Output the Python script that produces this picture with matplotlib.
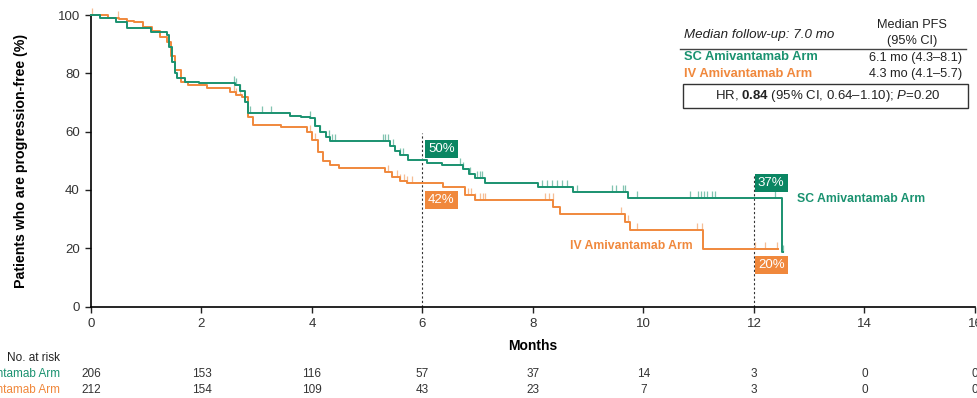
import numpy as np
import matplotlib.pyplot as plt
from matplotlib.patches import Rectangle

plt.rcParams['font.family'] = ['Liberation Sans', 'DejaVu Sans']
plt.rcParams['mathtext.fontset'] = 'custom'
plt.rcParams['mathtext.rm'] = 'Liberation Sans'
plt.rcParams['mathtext.bf'] = 'Liberation Sans:bold'
plt.rcParams['mathtext.it'] = 'Liberation Sans:italic'

GREEN = '#1a9270'
GREEN_BOX = '#0b8663'
ORANGE = '#f0883c'

# SC arm (step function: value s from time t onward)
sc_t = [0, 0.17, 0.45, 0.66, 1.08, 1.38, 1.42, 1.47, 1.52, 1.56, 1.70, 1.95, 2.60, 2.70,
        2.78, 2.85, 3.60, 3.80, 3.97, 4.05, 4.15, 4.25, 4.33, 5.42, 5.50, 5.60, 5.74, 6.08,
        6.36, 6.74, 6.85, 6.95, 7.13, 8.09, 8.73, 9.72, 12.50]
sc_s = [100, 99, 97.5, 95.4, 94.3, 93.1, 89, 84, 80, 78.3, 77.1, 76.6, 76.0, 74,
        70, 66.3, 65.5, 65.0, 64.5, 62, 60, 58, 56.8, 55, 53.5, 52, 50.3, 49.3,
        48.5, 47, 45.5, 44, 42.3, 41.1, 39.2, 37.1, 18.8]
sc_end = 12.53
sc_cens = [2.58, 2.63, 2.70, 2.88, 3.10, 3.25, 3.97, 4.05, 4.15, 4.30, 4.36, 4.42, 5.29,
           5.33, 5.38, 5.47, 5.60, 5.65, 6.68, 6.74, 6.86, 6.99, 7.04, 7.08, 8.16, 8.25,
           8.34, 8.43, 8.52, 8.61, 8.80, 9.43, 9.50, 9.62, 9.67, 9.88, 10.84, 10.99,
           11.04, 11.09, 11.15, 11.24, 11.30, 12.38, 12.53]

# IV arm
iv_t = [0, 0.30, 0.50, 0.65, 0.77, 0.95, 1.10, 1.25, 1.38, 1.45, 1.52, 1.62, 1.75, 2.10,
        2.52, 2.62, 2.74, 2.85, 2.94, 3.43, 3.91, 4.00, 4.10, 4.20, 4.33, 4.48, 5.33, 5.45,
        5.60, 5.72, 6.38, 6.77, 6.95, 8.37, 8.49, 9.67, 9.75, 11.07]
iv_s = [100, 99, 98.5, 98, 97.7, 96, 94.5, 92.5, 90.8, 86, 81, 77.1, 76, 74.8,
        73.5, 72.5, 72, 65.1, 62.3, 61.7, 60, 57, 53, 50, 48.5, 47.6, 46, 44.5,
        43, 42.3, 41.1, 38.2, 36.5, 34.2, 31.7, 29.1, 26.2, 19.7]
iv_end = 12.43
iv_cens = [0.02, 0.48, 2.58, 2.63, 2.70, 3.97, 4.05, 5.38, 5.54, 5.60, 5.66, 5.72, 5.81,
           6.83, 6.88, 6.95, 7.04, 7.09, 7.13, 8.22, 8.29, 8.36, 9.59, 9.72, 9.88, 10.97,
           11.05, 12.02, 12.20, 12.41]

risk_times = [0, 2, 4, 6, 8, 10, 12, 14, 16]
sc_risk = [206, 153, 116, 57, 37, 14, 3, 0, 0]
iv_risk = [212, 154, 109, 43, 23, 7, 3, 0, 0]

W, H = 978, 398
fig = plt.figure(figsize=(W / 100, H / 100), dpi=100)
ax = fig.add_axes([91 / W, 1 - 306.5 / H, (975 - 91) / W, (306.5 - 15) / H])


def fx(px):
    return px / W


def fy(py):
    return 1 - py / H


def draw_arm(t, s, end, cens, col):
    tt = list(t) + [end]
    ss = list(s) + [s[-1]]
    ax.step(tt, ss, where='post', color=col, lw=1.4, clip_on=False, zorder=3)
    idx = np.searchsorted(t, cens, side='right') - 1
    vals = np.array(s)[idx]
    ax.vlines(cens, vals, vals + 2.4, color=col, lw=0.9, alpha=0.55, clip_on=False, zorder=2)


draw_arm(iv_t, iv_s, iv_end, iv_cens, ORANGE)
draw_arm(sc_t, sc_s, sc_end, sc_cens, GREEN)

ax.vlines(6, 0, 59.5, colors='#333333', linestyles=(0, (2, 2)), lw=0.8)
ax.vlines(12, 0, 45, colors='#333333', linestyles=(0, (2, 2)), lw=0.8)

for x, y, txt, col in [(6.1, 54, '50%', GREEN_BOX), (6.1, 36.5, '42%', ORANGE),
                       (12.07, 42.4, '37%', GREEN_BOX), (12.07, 14.2, '20%', ORANGE)]:
    ax.text(x, y, txt, ha='left', va='center', color='white', fontsize=9.5, zorder=5,
            bbox=dict(boxstyle='square,pad=0.25', fc=col, ec='none'))

ax.text(12.77, 36.9, 'SC Amivantamab Arm', color=GREEN, fontsize=8.8, fontweight='bold',
        ha='left', va='center')
ax.text(8.67, 20.7, 'IV Amivantamab Arm', color=ORANGE, fontsize=8.8, fontweight='bold',
        ha='left', va='center')

ax.set_xlim(0, 16)
ax.set_ylim(0, 100)
ax.set_xticks(range(0, 17, 2))
ax.set_yticks(range(0, 101, 20))
ax.tick_params(labelsize=9.5, length=4, width=1, colors='#222222', labelcolor='#333333', pad=4)
for sp in ['top', 'right']:
    ax.spines[sp].set_visible(False)
for sp in ['left', 'bottom']:
    ax.spines[sp].set_linewidth(1.2)
ax.set_xlabel('Months', fontsize=10, fontweight='bold', labelpad=7)
ax.set_ylabel('Patients who are progression-free (%)', fontsize=10.2, fontweight='bold',
              labelpad=21)

# number at risk
fig.text(fx(60), fy(358), 'No. at risk', ha='right', va='center', fontsize=8.5, color='#222222')
fig.text(fx(60), fy(374), 'SC Amivantamab Arm', ha='right', va='center', fontsize=8.5, color=GREEN)
fig.text(fx(60), fy(390), 'IV Amivantamab Arm', ha='right', va='center', fontsize=8.5, color=ORANGE)
for tm, a, b in zip(risk_times, sc_risk, iv_risk):
    xf = fx(91 + tm * (975 - 91) / 16)
    fig.text(xf, fy(374), str(a), ha='center', va='center', fontsize=8.5, color='#333333')
    fig.text(xf, fy(390), str(b), ha='center', va='center', fontsize=8.5, color='#333333')

# summary table
fig.text(fx(684), fy(35), 'Median follow-up: 7.0 mo', fontsize=9.6, style='italic',
         ha='left', va='center', color='#222222')
fig.text(fx(912), fy(25), 'Median PFS', fontsize=9.2, ha='center', va='center', color='#222222')
fig.text(fx(912), fy(41), '(95% CI)', fontsize=9.2, ha='center', va='center', color='#222222')
fig.add_artist(plt.Line2D([fx(680), fx(966)], [fy(49), fy(49)], color='#444444', lw=1))
fig.text(fx(684), fy(57.5), 'SC Amivantamab Arm', fontsize=9.3, fontweight='bold', color=GREEN,
         ha='left', va='center')
fig.text(fx(916), fy(57.5), '6.1 mo (4.3–8.1)', fontsize=9.2, ha='center', va='center', color='#222222')
fig.text(fx(684), fy(74), 'IV Amivantamab Arm', fontsize=9.3, fontweight='bold', color=ORANGE,
         ha='left', va='center')
fig.text(fx(916), fy(74), '4.3 mo (4.1–5.7)', fontsize=9.2, ha='center', va='center', color='#222222')
fig.add_artist(Rectangle((fx(683), fy(108)), fx(968) - fx(683), fy(84) - fy(108),
                         transform=fig.transFigure, fill=False, ec='#333333', lw=1))
fig.text(fx(828), fy(96), r'HR, $\mathbf{0.84}$ (95% CI, 0.64–1.10); $\mathit{P}$=0.20',
         fontsize=9.5, ha='center', va='center', color='#222222')

fig.savefig('out.png', dpi=100)
